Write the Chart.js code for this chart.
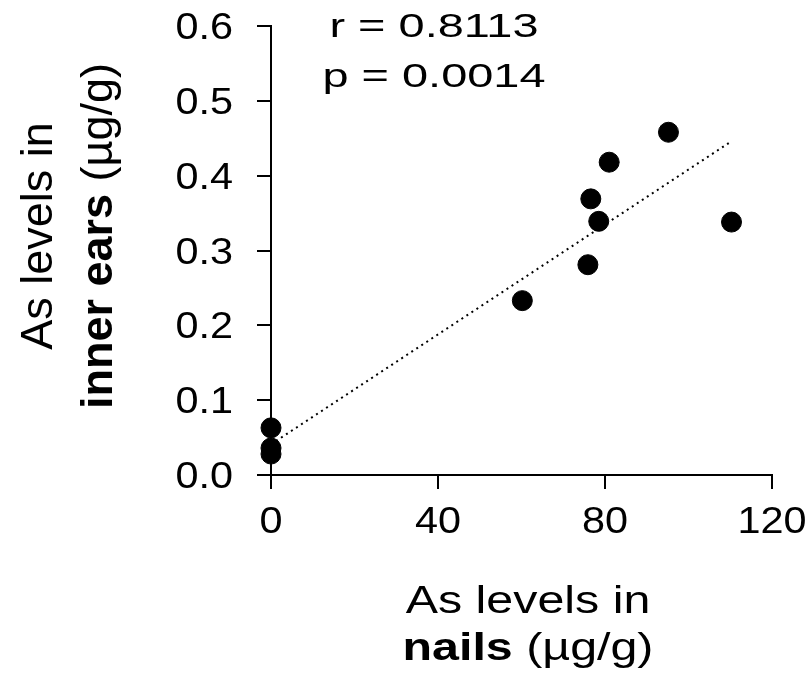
<!DOCTYPE html>
<html>
<head>
<meta charset="utf-8">
<script src="https://cdn.jsdelivr.net/npm/chart.js@4/dist/chart.umd.min.js"></script>
<style>
  html, body { margin: 0; padding: 0; background: #fff; }
  #wrap { width: 809px; height: 687px; }
</style>
</head>
<body>
<div id="wrap"><canvas id="chart" width="809" height="687"></canvas></div>
<script>
// values
const nailsLevels = [0, 0, 0, 60.2, 75.9, 76.6, 78.5, 81.0, 95.2, 110.3];
const earLevels = [0.063, 0.036, 0.028, 0.233, 0.281, 0.369, 0.339, 0.418, 0.458, 0.338];
const fitX = [0, 110.3];
const fitY = [0.041, 0.446];
const xTicks = [0, 40, 80, 120];
const yTicks = [0, 0.1, 0.2, 0.3, 0.4, 0.5, 0.6];
const statLines = ['r = 0.8113', 'p = 0.0014'];

const FONT = "'Liberation Sans', Arial, sans-serif";

const points = nailsLevels.map((x, i) => ({ x: x, y: earLevels[i] }));
const fitLine = fitX.map((x, i) => ({ x: x, y: fitY[i] }));

// the figure's lettering is a bit wider than plain Arial, so text gets a horizontal stretch
function wideText(ctx, text, x, y, sx, align) {
    ctx.save();
    ctx.translate(x, y);
    ctx.scale(sx, 1);
    ctx.textAlign = align || 'center';
    ctx.fillText(text, 0, 0);
    ctx.restore();
}

function mixedWidth(ctx, parts, size) {
    let total = 0;
    parts.forEach(p => {
        ctx.font = `${p[1]} ${size}px ${FONT}`;
        total += ctx.measureText(p[0]).width;
    });
    return total;
}

function drawMixed(ctx, parts, cx, y, size) {
    let x = cx - mixedWidth(ctx, parts, size) / 2;
    ctx.textAlign = 'left';
    parts.forEach(p => {
        ctx.font = `${p[1]} ${size}px ${FONT}`;
        ctx.fillText(p[0], x, y);
        x += ctx.measureText(p[0]).width;
    });
}

// tick labels, axis titles (partly bold) and the r / p note
const textPlugin = {
    id: 'texts',
    afterDraw(chart) {
        const ctx = chart.ctx;
        const xs = chart.scales.x;
        const ys = chart.scales.y;
        ctx.save();
        ctx.fillStyle = '#000';
        ctx.textBaseline = 'alphabetic';

        // tick labels, placed by the scales
        ctx.font = `36px ${FONT}`;
        xs.ticks.forEach(t => {
            wideText(ctx, String(t.value), xs.getPixelForValue(t.value), 533, 1.15, 'center');
        });
        ys.ticks.forEach(t => {
            wideText(ctx, t.value.toFixed(1), 233, ys.getPixelForValue(t.value) + 13, 1.15, 'right');
        });

        // r and p
        ctx.font = `34px ${FONT}`;
        wideText(ctx, statLines[0], 434, 37, 1.38, 'center');
        wideText(ctx, statLines[1], 434, 87, 1.38, 'center');

        // x title
        ctx.save();
        ctx.translate(528, 0);
        ctx.scale(1.24, 1);
        ctx.font = `39px ${FONT}`;
        ctx.textAlign = 'center';
        ctx.fillText('As levels in', 0, 613);
        drawMixed(ctx, [['nails', 'bold'], [' (µg/g)', 'normal']], 0, 660, 39);
        ctx.restore();

        // y title, rotated
        ctx.save();
        ctx.translate(0, 236);
        ctx.rotate(-Math.PI / 2);
        ctx.font = `45px ${FONT}`;
        ctx.textAlign = 'center';
        ctx.fillText('As levels in', 0, 52);
        drawMixed(ctx, [['inner ears', 'bold'], [' (µg/g)', 'normal']], 0, 112, 45);
        ctx.restore();

        ctx.restore();
    }
};

new Chart(document.getElementById('chart'), {
    type: 'scatter',
    data: {
        datasets: [
            {
                data: points,
                backgroundColor: '#000',
                borderColor: '#000',
                pointRadius: 10,
                pointHoverRadius: 10,
                clip: false
            },
            {
                type: 'line',
                data: fitLine,
                borderColor: '#000',
                borderWidth: 2,
                borderDash: [2, 4],
                pointRadius: 0,
                fill: false,
                clip: false
            }
        ]
    },
    options: {
        responsive: false,
        animation: false,
        layout: { padding: { top: 26, right: 37, left: 0, bottom: 0 } },
        plugins: {
            legend: { display: false },
            tooltip: { enabled: false }
        },
        scales: {
            x: {
                type: 'linear',
                min: 0,
                max: 120,
                afterFit: scale => {
                    scale.height = 212;
                    scale.paddingLeft = 0;
                    scale.paddingRight = 0;
                },
                afterBuildTicks: scale => { scale.ticks = xTicks.map(v => ({ value: v })); },
                border: { color: '#000', width: 2 },
                grid: { drawOnChartArea: false, drawTicks: true, tickLength: 14, color: '#000', lineWidth: 2 },
                ticks: { display: false }
            },
            y: {
                min: 0,
                max: 0.6,
                afterFit: scale => {
                    scale.width = 271;
                    scale.paddingTop = 0;
                    scale.paddingBottom = 0;
                },
                afterBuildTicks: scale => { scale.ticks = yTicks.map(v => ({ value: v })); },
                border: { color: '#000', width: 2 },
                grid: { drawOnChartArea: false, drawTicks: true, tickLength: 14, color: '#000', lineWidth: 2 },
                ticks: { display: false }
            }
        }
    },
    plugins: [textPlugin]
});
</script>
</body>
</html>
